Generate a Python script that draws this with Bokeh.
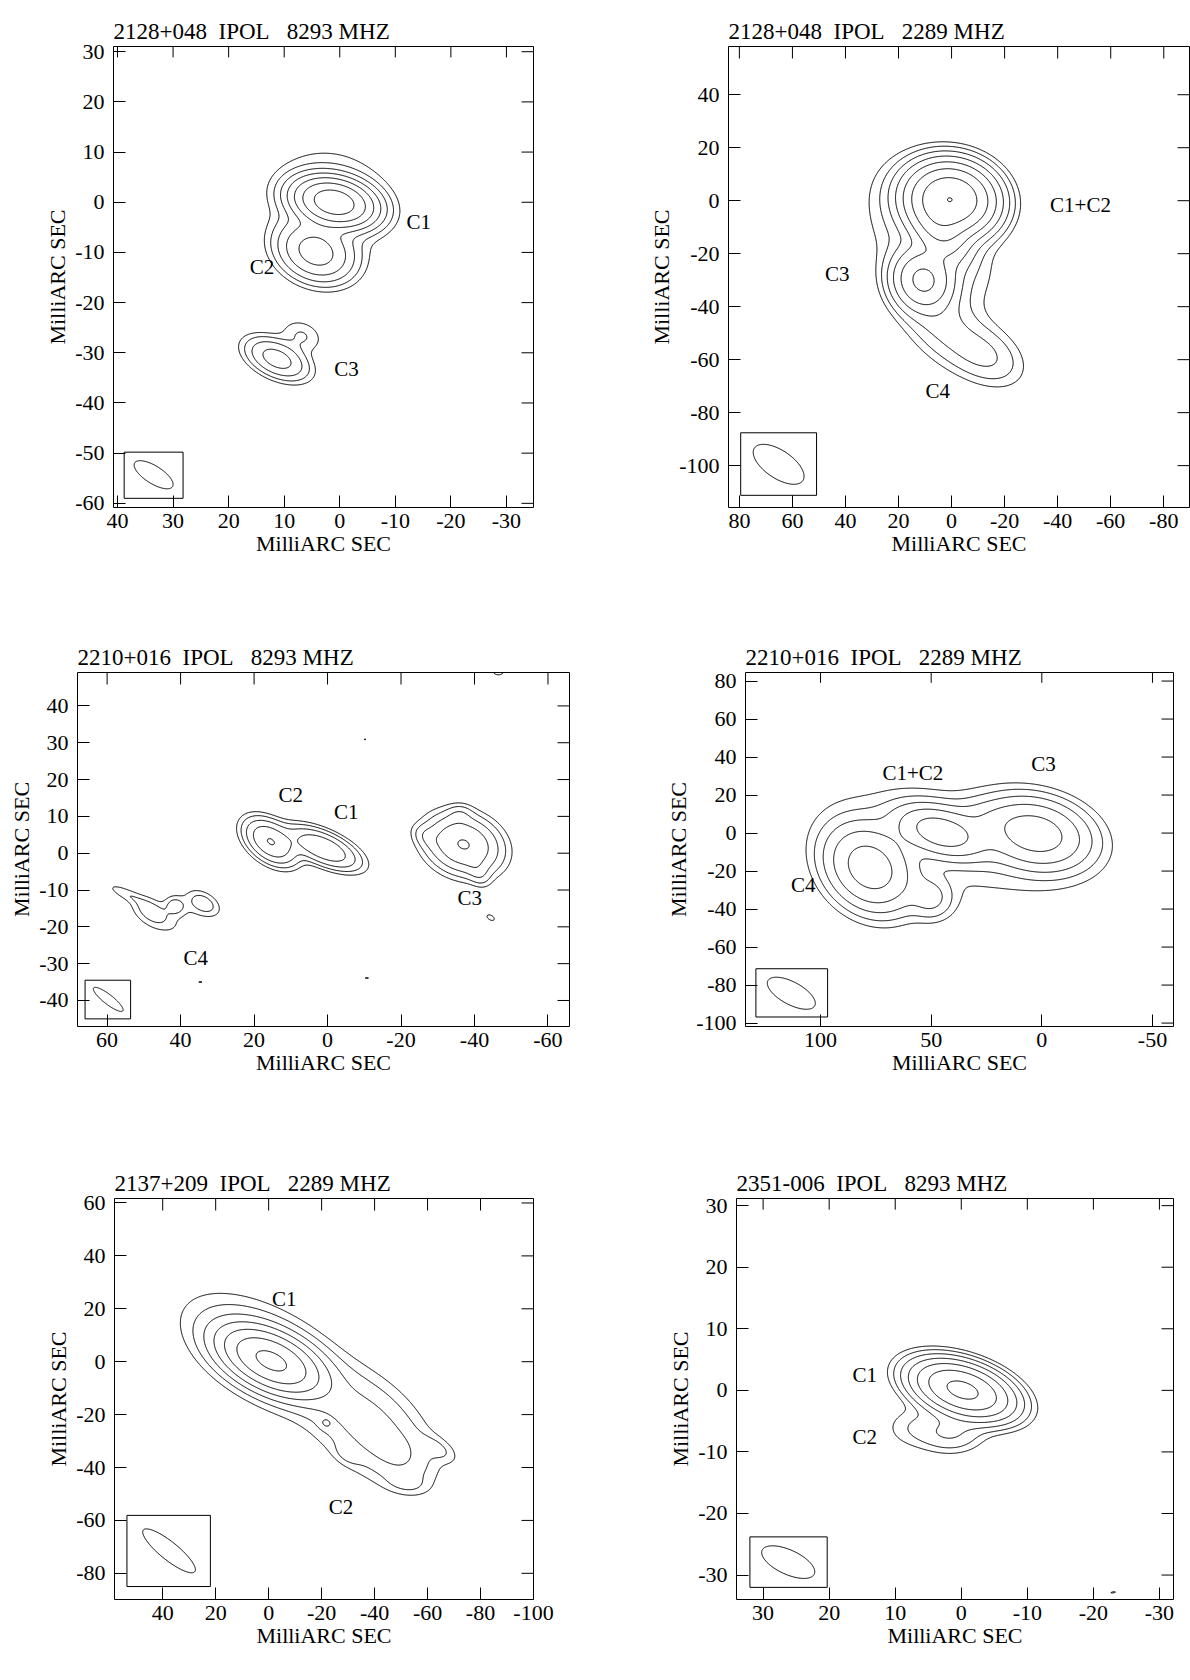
import numpy as np
from bokeh.plotting import figure
from bokeh.layouts import column, row
from bokeh.models import Range1d, FixedTicker
from bokeh.core.properties import value
from bokeh.embed import file_html
from bokeh.resources import INLINE

FONT = "Liberation Serif"
TICK_FS = "22px"
TITLE_FS = "23px"
LABEL_FS = "21px"
AXIS_LABEL = "MilliARC SEC"
SP = "\u00a0"

# ---------------- panel 1 : 2128+048 8293 MHz ----------------
P1_TITLE = "2128+048" + SP * 2 + "IPOL" + SP * 3 + "8293 MHZ"
P1_XRANGE = [40.72, -34.87]
P1_YRANGE = [-60.83, 31.04]
P1_XTICKS = [40, 30, 20, 10, 0, -10, -20, -30]
P1_YTICKS = [30, 20, 10, 0, -10, -20, -30, -40, -50, -60]
P1_LEVELS = [1, 2, 4, 8, 16, 32, 64]
P1_CX = [1.0, 1.5, 4.3, 11.3, 6.8]
P1_CY = [0.0, 0.5, -9.9, -31.2, -26.6]
P1_PEAK = [100, 3, 22, 11, 2.1]
P1_MAJ = [8.7, 16, 9.0, 8.1, 6.0]
P1_MIN = [5.5, 14, 7.0, 4.6, 4.5]
P1_PA = [75, 60, 60, 61, 60]
P1_BEAM = [33.5, -54.3, 8.3, 3.4, 54]
P1_BOX = [38.8, 28.2, -49.8, -59.0]
P1_LABELS = ["C1", "C2", "C3"]
P1_LX = [-14.2, 14.0, -1.2]
P1_LY = [-4.0, -13.0, -33.3]

# ---------------- panel 2 : 2128+048 2289 MHz ----------------
P2_TITLE = "2128+048" + SP * 2 + "IPOL" + SP * 3 + "2289 MHZ"
P2_XRANGE = [84.1, -89.7]
P2_YRANGE = [-115.8, 58.2]
P2_XTICKS = [80, 60, 40, 20, 0, -20, -40, -60, -80]
P2_YTICKS = [40, 20, 0, -20, -40, -60, -80, -100]
P2_LEVELS = [1, 2, 4, 8, 16, 32, 64, 128]
P2_CX = [0.3, 4.5, 10.7, 8.0, 5.0, -12.0]
P2_CY = [0.7, -11.0, -29.9, -15.0, -45.0, -58.0]
P2_PEAK = [125, 25, 36, 3, 4.5, 4.5]
P2_MAJ = [20, 18, 15, 45, 26, 22]
P2_MIN = [16, 12, 14, 28, 16, 14]
P2_PA = [80, 35, 40, 35, 40, 60]
P2_BEAM = [65.2, -99.5, 22, 10.5, 56]
P2_BOX = [79.5, 50.9, -87.6, -111.2]
P2_LABELS = ["C1+C2", "C3", "C4"]
P2_LX = [-48.6, 43.1, 5.2]
P2_LY = [-1.5, -27.6, -71.7]

# ---------------- panel 3 : 2210+016 8293 MHz ----------------
P3_TITLE = "2210+016" + SP * 2 + "IPOL" + SP * 3 + "8293 MHZ"
P3_XRANGE = [68.06, -65.86]
P3_YRANGE = [-47.07, 49.08]
P3_XTICKS = [60, 40, 20, 0, -20, -40, -60]
P3_YTICKS = [40, 30, 20, 10, 0, -10, -20, -30, -40]
P3_LEVELS = [1, 2, 4, 8, 16]
P3_CX = [15.5, 1.2, -37.0, -27.0, -36.0, -41.0, -44.4,
         55.0, 48.0, 41.5, 33.8, 38.0, 43.0,
         -10.2, 34.6, -10.7, -46.5, -67.0]
P3_CY = [3.1, 1.4, 2.4, 4.5, 10.5, -5.0, -17.5,
         -11.0, -15.8, -14.3, -13.6, -15.0, -20.0,
         30.9, -35.0, -33.9, 49.6, -22.0]
P3_PEAK = [16.3, 15.2, 16.6, 2.0, 2.0, 2.5, 1.3,
           1.6, 2.9, 2.6, 3.0, 0.5, 0.6,
           1.1, 1.1, 1.1, 1.5, 1.3]
P3_MAJ = [10.5, 13.5, 13.5, 6.0, 5.0, 6.0, 3.5,
          9.0, 9.0, 4.5, 7.5, 8.0, 14.0,
          1.2, 2.5, 2.5, 4.0, 3.0]
P3_MIN = [6.4, 5.5, 10.0, 4.0, 4.0, 4.0, 2.0,
          2.5, 5.0, 4.0, 4.5, 5.0, 6.0,
          0.8, 0.8, 0.8, 3.0, 2.0]
P3_PA = [53, 66, 70, 60, 90, 30, 60,
         65, 60, 60, 60, 60, 80,
         90, 90, 90, 90, 0]
P3_BEAM = [59.7, -39.7, 10.1, 2.6, 52]
P3_BOX = [66.0, 53.6, -34.5, -45.0]
P3_LABELS = ["C2", "C1", "C3", "C4"]
P3_LX = [10.0, -5.1, -38.7, 35.9]
P3_LY = [15.7, 11.2, -12.1, -28.4]

# ---------------- panel 4 : 2210+016 2289 MHz ----------------
P4_TITLE = "2210+016" + SP * 2 + "IPOL" + SP * 3 + "2289 MHZ"
P4_XRANGE = [133.9, -59.5]
P4_YRANGE = [-101.8, 84.5]
P4_XTICKS = [100, 50, 0, -50]
P4_YTICKS = [80, 60, 40, 20, 0, -20, -40, -60, -80, -100]
P4_LEVELS = [1, 2, 4, 8, 16]
P4_CX = [2.8, 45.5, 77.7, 40.0, 50.0, 25.0]
P4_CY = [-0.3, 0.5, -18.3, -5.0, -34.0, 8.0]
P4_PEAK = [23, 23, 23, 1.5, 4.5, 2.5]
P4_MAJ = [32, 28, 31, 100, 16, 24]
P4_MIN = [23, 16, 24, 50, 14, 14]
P4_PA = [72, 68, 30, 72, 10, 80]
P4_BEAM = [113.2, -84.3, 25, 11.4, 56]
P4_BOX = [129.2, 96.8, -71.4, -96.8]
P4_LABELS = ["C1+C2", "C3", "C4"]
P4_LX = [58.3, -0.8, 107.8]
P4_LY = [31.6, 36.2, -27.3]

# ---------------- panel 5 : 2137+209 2289 MHz ----------------
P5_TITLE = "2137+209" + SP * 2 + "IPOL" + SP * 3 + "2289 MHZ"
P5_XRANGE = [58.2, -100.0]
P5_YRANGE = [-89.9, 61.7]
P5_XTICKS = [40, 20, 0, -20, -40, -60, -80, -100]
P5_YTICKS = [60, 40, 20, 0, -20, -40, -60, -80]
P5_LEVELS = [1, 2, 4, 8, 16, 32, 64]
P5_CX = [-1.0, 0.0, -38.0, -50.0, -21.4, -30.0, -64.0, -52.0]
P5_CY = [0.3, 2.0, -24.0, -36.0, -23.5, -35.0, -33.0, -46.0]
P5_PEAK = [70, 6, 5.0, 2.0, 1.7, 1.5, 1.8, 1.5]
P5_MAJ = [24, 45, 36, 20, 4, 8, 12, 12]
P5_MIN = [12, 22, 22, 14, 3, 5, 6, 6]
P5_PA = [65, 60, 50, 60, 60, 60, 60, 80]
P5_BEAM = [37.6, -71.5, 25, 6.8, 51]
P5_BOX = [53.5, 22.0, -58.1, -85.0]
P5_LABELS = ["C1", "C2"]
P5_LX = [-5.9, -27.3]
P5_LY = [23.7, -55.0]

# ---------------- panel 6 : 2351-006 8293 MHz ----------------
P6_TITLE = "2351-006" + SP * 2 + "IPOL" + SP * 3 + "8293 MHZ"
P6_XRANGE = [34.03, -32.13]
P6_YRANGE = [-33.97, 31.16]
P6_XTICKS = [30, 20, 10, 0, -10, -20, -30]
P6_YTICKS = [30, 20, 10, 0, -10, -20, -30]
P6_LEVELS = [1, 2, 4, 8, 16, 32, 64]
P6_CX = [-0.2, 1.5, 7.0, -23.0]
P6_CY = [0.05, -7.0, -6.0, -32.8]
P6_PEAK = [77, 4, 1.8, 1.1]
P6_MAJ = [9.5, 7, 5, 2]
P6_MIN = [5, 4.5, 7, 0.5]
P6_PA = [70, 90, 0, 100]
P6_BEAM = [26.2, -27.9, 8.8, 3.9, 63]
P6_BOX = [32.0, 20.3, -23.8, -32.0]
P6_LABELS = ["C1", "C2"]
P6_LX = [14.6, 14.6]
P6_LY = [2.5, -7.5]

TICK_LEN = 12


def style_axis(ax, ticks, standoff, label_standoff):
    ax.ticker = FixedTicker(ticks=ticks)
    ax.major_tick_in = TICK_LEN
    ax.major_tick_out = 0
    ax.minor_tick_in = 0
    ax.minor_tick_out = 0
    ax.minor_tick_line_color = None
    ax.axis_line_color = None
    ax.major_tick_line_color = "black"
    ax.major_tick_line_width = 1
    ax.major_label_overrides = {t: str(t) for t in ticks}
    ax.major_label_text_font = FONT
    ax.major_label_text_font_size = TICK_FS
    ax.major_label_text_color = "black"
    ax.major_label_standoff = standoff
    ax.axis_label = AXIS_LABEL
    ax.axis_label_text_font = FONT
    ax.axis_label_text_font_size = TICK_FS
    ax.axis_label_text_font_style = "normal"
    ax.axis_label_text_color = "black"
    ax.axis_label_standoff = label_standoff


def panel(title, xr, yr, xt, yt, levels, cx, cy, pk, amaj, amin, apa,
          beam, box, labels, lx, ly, frame, origin, size):
    L, R, T, B = frame
    ox, oy = origin
    w, h = size
    p = figure(width=w, height=h, x_range=Range1d(*xr), y_range=Range1d(*yr),
               output_backend="svg", toolbar_location=None,
               min_border_left=L - ox, min_border_right=ox + w - R,
               min_border_top=T - oy, min_border_bottom=oy + h - B)
    p.background_fill_color = "white"
    p.border_fill_color = "white"
    p.outline_line_color = "black"
    p.outline_line_width = 1
    p.outline_line_alpha = 1
    p.xgrid.grid_line_color = None
    p.ygrid.grid_line_color = None

    p.title.text = title
    p.title.text_font = FONT
    p.title.text_font_size = TITLE_FS
    p.title.text_font_style = "normal"
    p.title.text_color = "black"
    p.title.align = "left"
    p.title.offset = 0
    p.title.standoff = 6

    style_axis(p.xaxis[0], xt, 6, 0)
    style_axis(p.yaxis[0], yt, 9, 2)

    # inward ticks on the top and right edges of the frame
    ppx = (R - L) / abs(xr[0] - xr[1])
    ppy = (B - T) / abs(yr[0] - yr[1])
    ytop = max(yr)
    xright = xr[1]
    inward = 1 if xr[0] > xr[1] else -1
    p.segment(x0=xt, y0=[ytop] * len(xt), x1=xt, y1=[ytop - TICK_LEN / ppy] * len(xt),
              line_color="black", line_width=1)
    p.segment(x0=[xright] * len(yt), y0=yt, x1=[xright + inward * TICK_LEN / ppx] * len(yt),
              y1=yt, line_color="black", line_width=1)

    # brightness map from the components
    xs = np.linspace(min(xr), max(xr), 600)
    ys = np.linspace(min(yr), max(yr), 600)
    X, Y = np.meshgrid(xs, ys)
    Z = np.zeros_like(X)
    for x0, y0, a0, ma, mi, pa in zip(cx, cy, pk, amaj, amin, apa):
        t = np.radians(pa)
        dx, dy = X - x0, Y - y0
        du = dx * np.sin(t) + dy * np.cos(t)
        dv = dx * np.cos(t) - dy * np.sin(t)
        Z += a0 * np.exp(-4 * np.log(2) * ((du / ma) ** 2 + (dv / mi) ** 2))
    p.contour(xs, ys, Z, levels, line_color="black", line_width=1)

    # restoring beam and its box
    bx, by, bmaj, bmin, bpa = beam
    t = np.radians(bpa)
    s = np.linspace(0, 2 * np.pi, 200)
    ex = bx + 0.5 * bmaj * np.cos(s) * np.sin(t) + 0.5 * bmin * np.sin(s) * np.cos(t)
    ey = by + 0.5 * bmaj * np.cos(s) * np.cos(t) - 0.5 * bmin * np.sin(s) * np.sin(t)
    p.line(ex, ey, line_color="black", line_width=1)
    p.quad(left=[box[0]], right=[box[1]], top=[box[2]], bottom=[box[3]],
           fill_color=None, line_color="black", line_width=1)

    p.text(x=lx, y=ly, text=labels, text_font=value(FONT), text_font_size=LABEL_FS,
           text_align="center", text_baseline="middle", text_color="black")
    return p


p1 = panel(P1_TITLE, P1_XRANGE, P1_YRANGE, P1_XTICKS, P1_YTICKS, P1_LEVELS,
           P1_CX, P1_CY, P1_PEAK, P1_MAJ, P1_MIN, P1_PA, P1_BEAM, P1_BOX,
           P1_LABELS, P1_LX, P1_LY, (113, 533, 35, 542), (0, 0), (600, 600))
p2 = panel(P2_TITLE, P2_XRANGE, P2_YRANGE, P2_XTICKS, P2_YTICKS, P2_LEVELS,
           P2_CX, P2_CY, P2_PEAK, P2_MAJ, P2_MIN, P2_PA, P2_BEAM, P2_BOX,
           P2_LABELS, P2_LX, P2_LY, (728, 1189, 46, 507), (600, 0), (590, 600))
p3 = panel(P3_TITLE, P3_XRANGE, P3_YRANGE, P3_XTICKS, P3_YTICKS, P3_LEVELS,
           P3_CX, P3_CY, P3_PEAK, P3_MAJ, P3_MIN, P3_PA, P3_BEAM, P3_BOX,
           P3_LABELS, P3_LX, P3_LY, (77, 569, 672, 1026), (0, 600), (600, 550))
p4 = panel(P4_TITLE, P4_XRANGE, P4_YRANGE, P4_XTICKS, P4_YTICKS, P4_LEVELS,
           P4_CX, P4_CY, P4_PEAK, P4_MAJ, P4_MIN, P4_PA, P4_BEAM, P4_BOX,
           P4_LABELS, P4_LX, P4_LY, (745, 1173, 655, 1066), (600, 600), (590, 550))
p5 = panel(P5_TITLE, P5_XRANGE, P5_YRANGE, P5_XTICKS, P5_YTICKS, P5_LEVELS,
           P5_CX, P5_CY, P5_PEAK, P5_MAJ, P5_MIN, P5_PA, P5_BEAM, P5_BOX,
           P5_LABELS, P5_LX, P5_LY, (114, 533, 1198, 1599), (0, 1150), (600, 530))
p6 = panel(P6_TITLE, P6_XRANGE, P6_YRANGE, P6_XTICKS, P6_YTICKS, P6_LEVELS,
           P6_CX, P6_CY, P6_PEAK, P6_MAJ, P6_MIN, P6_PA, P6_BEAM, P6_BOX,
           P6_LABELS, P6_LX, P6_LY, (736, 1173, 1194, 1625), (600, 1150), (590, 530))

layout = column(row(p1, p2), row(p3, p4), row(p5, p6))
open("out.html", "w").write(file_html(layout, INLINE, "contour maps"))
